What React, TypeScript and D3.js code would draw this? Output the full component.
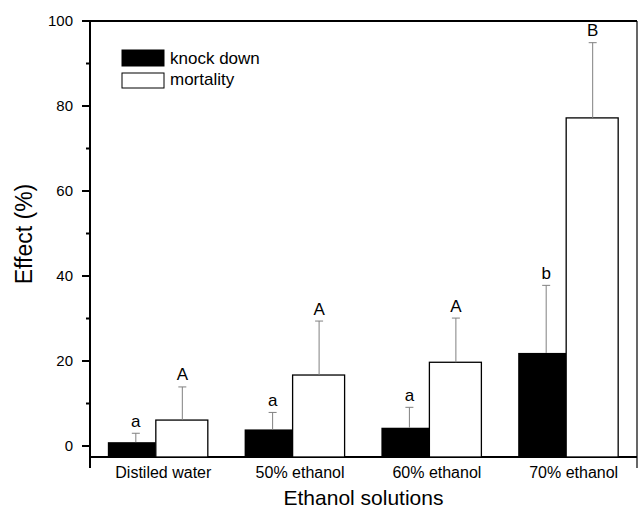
import React, { useEffect, useRef } from "react";
import * as d3 from "d3";

const categories = ["Distiled water", "50% ethanol", "60% ethanol", "70% ethanol"];
const series = ["knock down", "mortality"];
const knockDown = [0.9, 3.9, 4.3, 21.9];
const knockDownErr = [3.0, 7.9, 9.1, 37.8];
const mortality = [6.1, 16.7, 19.7, 77.2];
const mortalityErr = [13.9, 29.4, 30.1, 94.9];
const knockLetters = ["a", "a", "a", "b"];
const mortLetters = ["A", "A", "A", "B"];
const yTicks = [0, 20, 40, 60, 80, 100];
const yMinor = [10, 30, 50, 70, 90];

const W = 638;
const H = 510;

export default function App() {
  const ref = useRef<SVGSVGElement>(null);

  useEffect(() => {
    const svg = d3.select(ref.current);
    svg.selectAll("*").remove();

    const left = 90, right = 637, top = 21, bottom = 457;
    const font = "Liberation Sans, Arial, sans-serif";

    const x = d3.scaleBand()
      .domain(categories)
      .range([89.5, 636.5])
      .paddingInner(0.269)
      .paddingOuter(0.134);

    const y = d3.scaleLinear()
      .domain([0, 100])
      .range([446, 21]);

    const bw = x.bandwidth();
    const g = svg.append("g");

    // frame
    g.append("line").attr("x1", left).attr("x2", left).attr("y1", top).attr("y2", 468)
      .attr("stroke", "#000").attr("stroke-width", 2);
    g.append("line").attr("x1", right).attr("x2", right).attr("y1", top).attr("y2", 468)
      .attr("stroke", "#000").attr("stroke-width", 1.2);
    g.append("line").attr("x1", left).attr("x2", right).attr("y1", top).attr("y2", top)
      .attr("stroke", "#000").attr("stroke-width", 2);
    g.append("line").attr("x1", left).attr("x2", right).attr("y1", bottom).attr("y2", bottom)
      .attr("stroke", "#000").attr("stroke-width", 2);

    // y ticks
    g.selectAll(".ytick").data(yTicks).join("line")
      .attr("x1", left - 8).attr("x2", left)
      .attr("y1", d => y(d)).attr("y2", d => y(d))
      .attr("stroke", "#000").attr("stroke-width", 2);
    g.selectAll(".yminor").data(yMinor).join("line")
      .attr("x1", left - 4).attr("x2", left)
      .attr("y1", d => y(d)).attr("y2", d => y(d))
      .attr("stroke", "#000").attr("stroke-width", 2);
    g.selectAll(".ylab").data(yTicks).join("text")
      .attr("x", 73).attr("y", d => y(d) + 5.3)
      .attr("text-anchor", "end")
      .attr("font-family", font).attr("font-size", 15)
      .text(d => d);

    // bars
    const kw = bw * 0.48;
    categories.forEach((c, i) => {
      const x0 = x(c) as number;
      g.append("rect")
        .attr("x", x0).attr("y", y(knockDown[i]))
        .attr("width", kw).attr("height", bottom - y(knockDown[i]))
        .attr("fill", "#000");
      g.append("rect")
        .attr("x", x0 + kw).attr("y", y(mortality[i]))
        .attr("width", bw - kw).attr("height", bottom - y(mortality[i]))
        .attr("fill", "#fff").attr("stroke", "#000").attr("stroke-width", 1.3);

      const errs = [
        { cx: x0 + bw * 0.28, v: knockDown[i], e: knockDownErr[i], l: knockLetters[i] },
        { cx: x0 + bw * 0.745, v: mortality[i], e: mortalityErr[i], l: mortLetters[i] },
      ];
      errs.forEach(d => {
        g.append("line").attr("x1", d.cx).attr("x2", d.cx)
          .attr("y1", y(d.v)).attr("y2", y(d.e))
          .attr("stroke", "#808080").attr("stroke-width", 1);
        g.append("line").attr("x1", d.cx - 4).attr("x2", d.cx + 4)
          .attr("y1", y(d.e)).attr("y2", y(d.e))
          .attr("stroke", "#808080").attr("stroke-width", 1);
        g.append("text")
          .attr("x", d.cx).attr("y", y(d.e) - 6.5)
          .attr("text-anchor", "middle")
          .attr("font-family", font).attr("font-size", 17)
          .text(d.l);
      });

      g.append("text")
        .attr("x", x0 + bw / 2 + 5.5).attr("y", 478)
        .attr("text-anchor", "middle")
        .attr("font-family", font).attr("font-size", 16)
        .text(c);
    });

    // axis titles
    g.append("text")
      .attr("x", (left + right) / 2).attr("y", 505)
      .attr("text-anchor", "middle")
      .attr("font-family", font).attr("font-size", 21)
      .text("Ethanol solutions");
    g.append("text")
      .attr("transform", `translate(32, 234) rotate(-90)`)
      .attr("text-anchor", "middle")
      .attr("font-family", font).attr("font-size", 23)
      .text("Effect (%)");

    // legend
    const legend = g.append("g").attr("transform", "translate(122, 50)");
    series.forEach((s, i) => {
      legend.append("rect")
        .attr("x", 0).attr("y", i * 23)
        .attr("width", 42).attr("height", i === 0 ? 16 : 15)
        .attr("fill", i === 0 ? "#000" : "#fff")
        .attr("stroke", "#000").attr("stroke-width", 1);
      legend.append("text")
        .attr("x", 48).attr("y", 14 + i * 21)
        .attr("font-family", font).attr("font-size", 17)
        .text(s);
    });
  }, []);

  return (
    <svg ref={ref} width={W} height={H} style={{ position: "absolute", left: 0, top: 0 }} />
  );
}
